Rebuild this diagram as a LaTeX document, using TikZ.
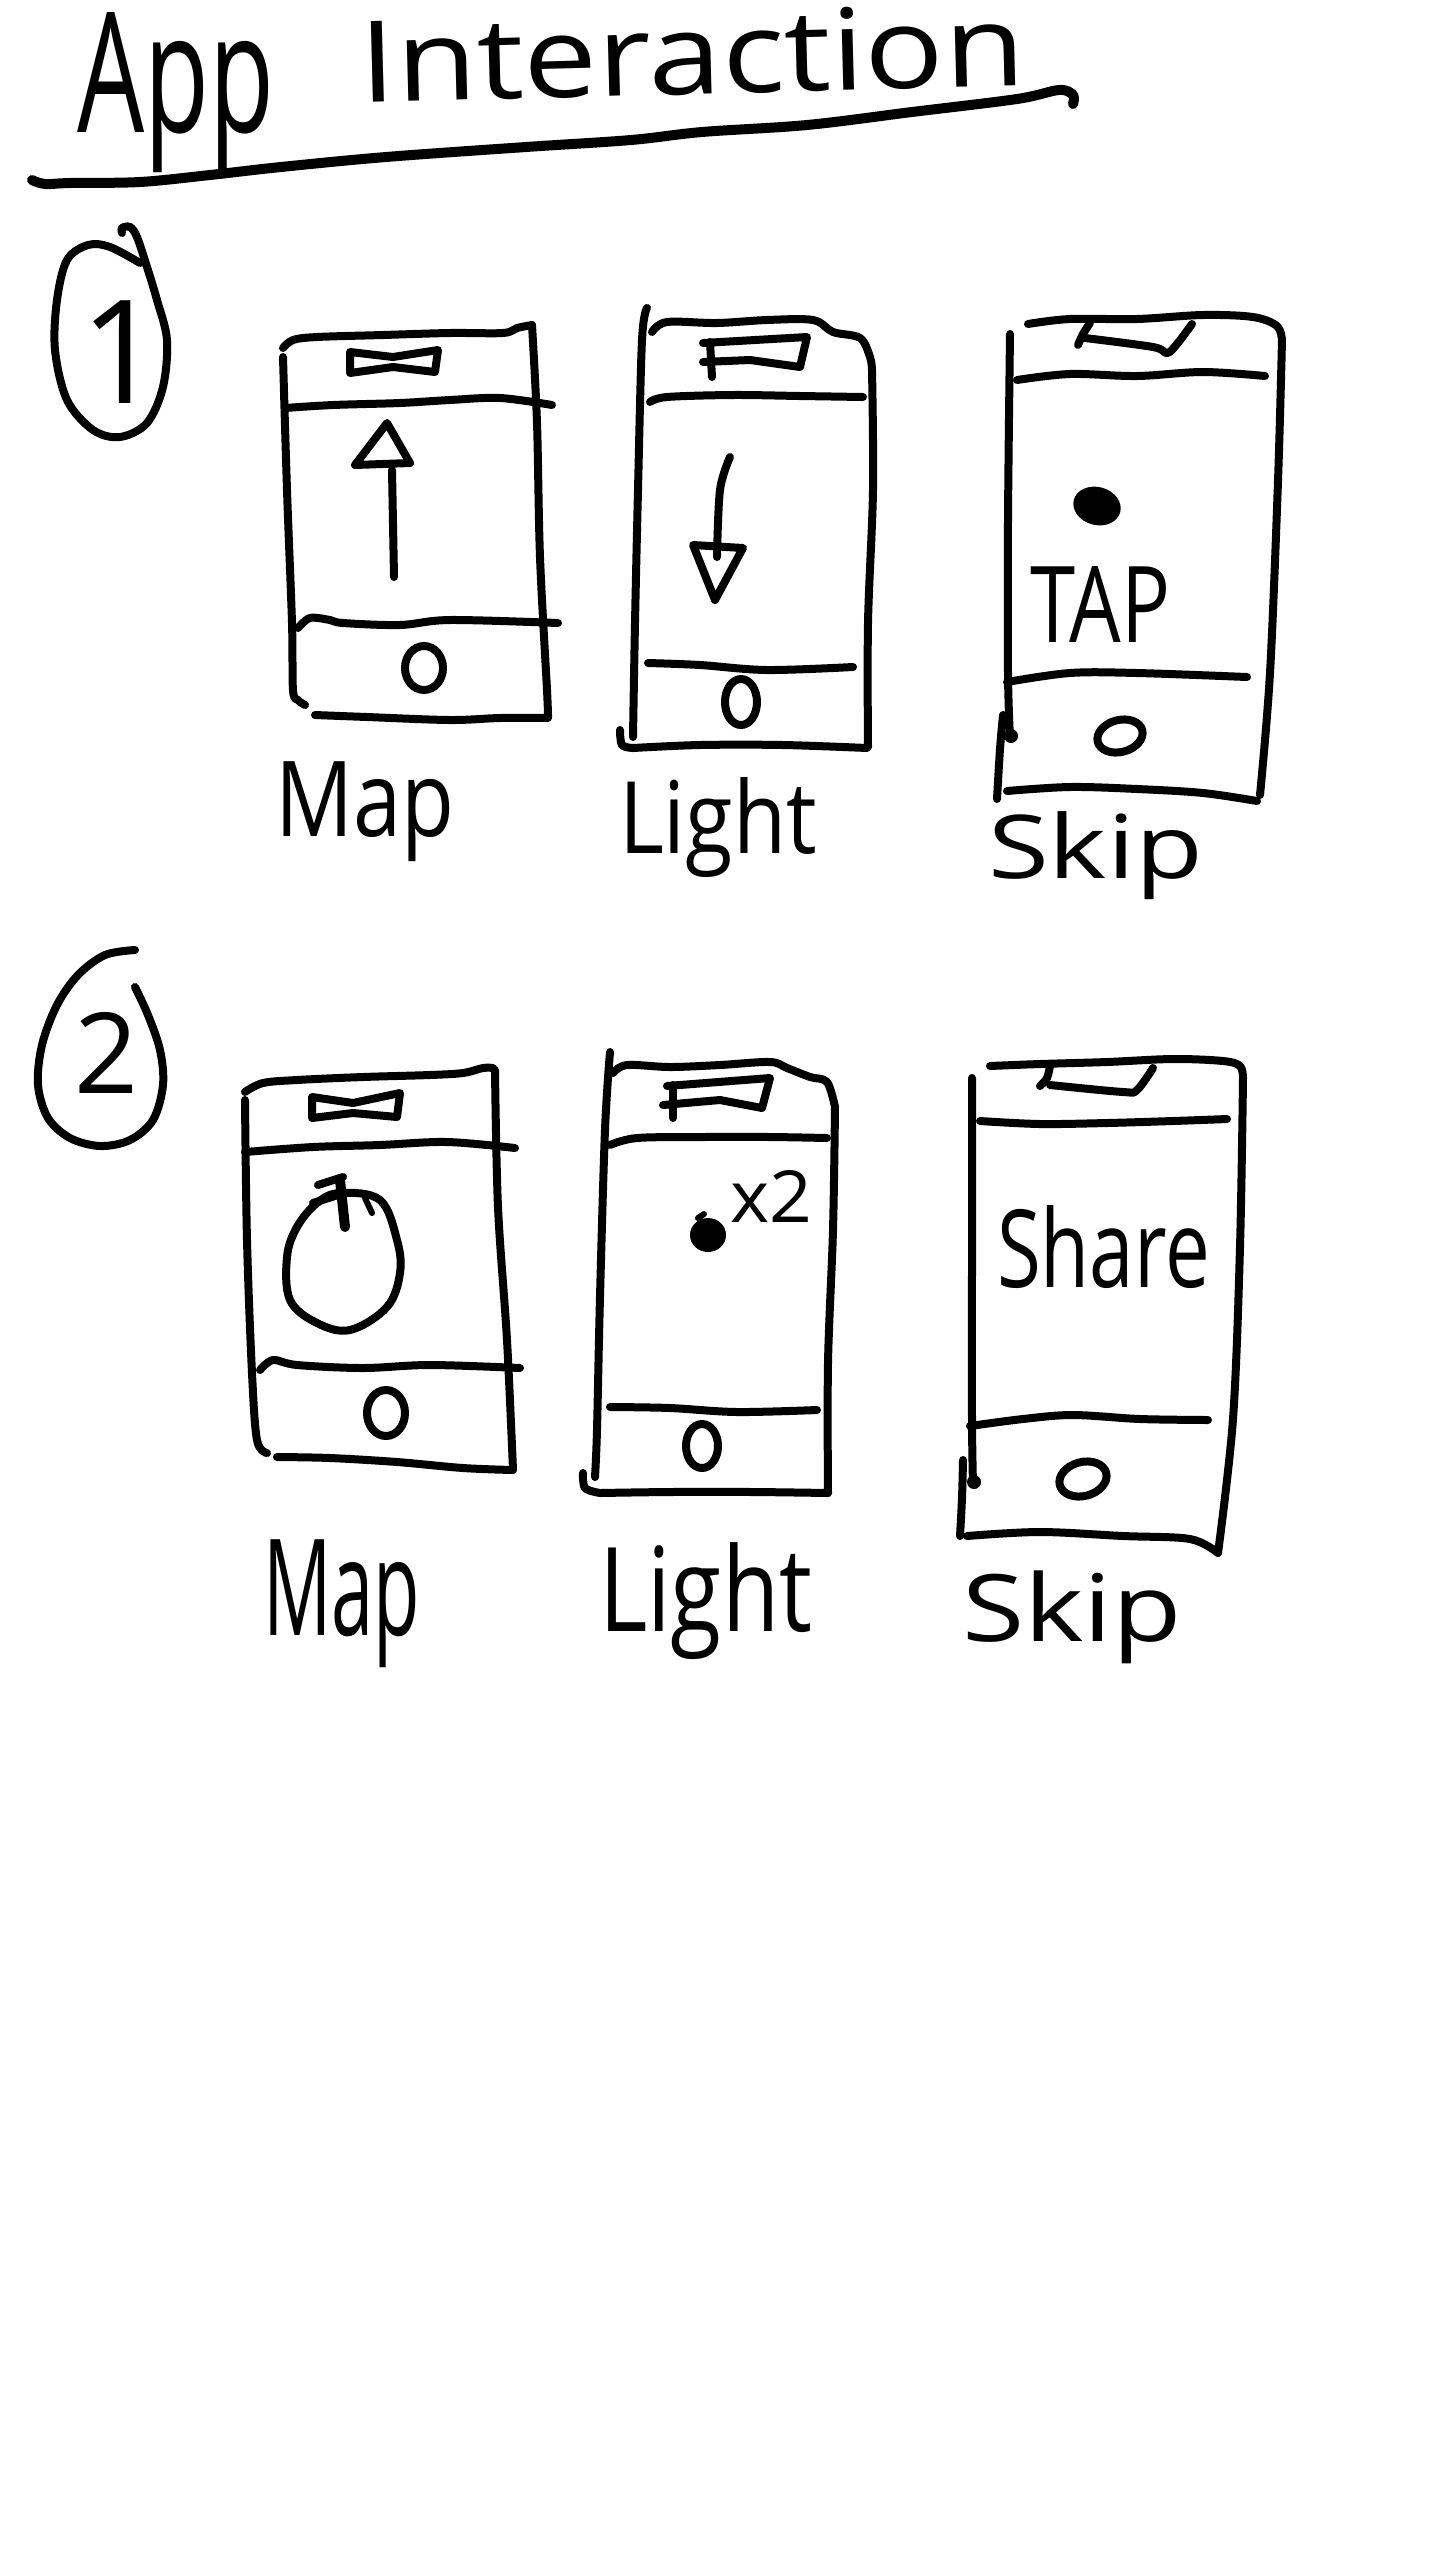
\documentclass[tikz,border=0pt]{standalone}
\usepackage{fontspec}
\usepackage{graphicx}
\setmainfont{Open Sans}
\newdimen\pxu \pxu=0.5pt
\newcommand{\hw}[3]{\resizebox*{#1\pxu}{#2\pxu}{#3}}
\begin{document}
\begin{tikzpicture}[x=0.5pt,y=-0.5pt,
  ink/.style={draw=black,line width=4pt,line cap=round,line join=round},
  fine/.style={draw=black,line width=3pt,line cap=round,line join=round},
  txt/.style={anchor=north west,inner sep=0pt,outer sep=0pt},
  sm/.style={smooth,tension=0.55}]
\fill[white] (0,0) rectangle (1440,2560);
\useasboundingbox (0,0) rectangle (1440,2560);

% ---------- title ----------
\node[txt] (tApp) at (77,13) {\hw{197}{160}{App}};
\node[anchor=south west,inner sep=0pt,outer sep=0pt,rotate=1.5] (tInter) at (361,104) {\hw{665}{84}{Interaction}};
\draw[ink,line width=5pt] plot[sm] coordinates {(32,180) (45,184) (70,183) (140,182) (210,175) (281,167) (386,157) (526,147) (631,140) (702,132) (807,125) (912,112) (1017,99) (1059,90) (1073,95) (1073,104)};

% ---------- section 1 ----------
\draw[ink] plot[sm] coordinates {(140,263) (110,247) (88,245) (67,260) (57,300) (55,350) (67,400) (93,430) (120,437) (147,423) (163,387) (167,340) (157,300) (147,267) (137,237) (130,227) (122,228) (122,233)};
\node (n1) at (122,352) {\fontsize{72}{72}\selectfont 1};

% phone 1 (Map)
\draw[ink] plot[sm] coordinates {(283,348) (293,340) (317,337) (383,335) (450,333) (503,333) (517,328) (532,325)};
\draw[ink] plot[sm] coordinates {(532,325) (537,423) (540,557) (547,690) (548,717)};
\draw[ink] plot[sm] coordinates {(283,357) (287,490) (292,623) (293,690) (298,700) (305,705)};
\draw[ink] plot[sm] coordinates {(315,715) (367,717) (450,720) (500,718) (548,718)};
\draw[ink] plot[sm] coordinates {(285,408) (333,405) (400,403) (450,400) (500,398) (552,405)};
\draw[ink] plot[sm] coordinates {(298,628) (310,618) (330,620) (343,623) (400,625) (450,620) (558,623)};
\draw[ink] (350,352) -- (393,357) -- (438,350) -- (435,372) -- (393,367) -- (350,373) -- cycle;
\draw[ink] (394,577) -- (392,470);
\draw[ink] (355,465) -- (387,423) -- (410,463) -- cycle;
\draw[ink] (424,668) ellipse [x radius=19, y radius=22];

% phone 2 (Light)
\draw[ink] plot[sm] coordinates {(652,332) (667,322) (717,323) (767,320) (813,320) (833,332) (860,338) (870,357) (872,370)};
\draw[ink] plot[sm] coordinates {(872,370) (873,490) (868,623) (868,747)};
\draw[ink] plot[sm] coordinates {(647,308) (642,340) (638,490) (635,623) (633,737)};
\draw[ink] plot[sm] coordinates {(620,730) (622,745) (633,748)};
\draw[ink] plot[sm] coordinates {(633,748) (700,745) (783,745) (867,748)};
\draw[ink] plot[sm] coordinates {(650,402) (667,397) (733,395) (800,396) (863,397)};
\draw[ink] plot[sm] coordinates {(648,663) (700,665) (767,670) (853,667)};
\draw[ink] (703,343) -- (807,337) -- (800,367) -- (750,360) -- (703,362);
\draw[ink] (710,342) -- (712,377);
\draw[ink] plot[sm] coordinates {(730,457) (720,490) (717,557)};
\draw[ink] (693,545) -- (743,548) -- (715,600) -- cycle;
\draw[ink] (741,702) ellipse [x radius=16, y radius=23];

% phone 3 (Skip)
\draw[ink] plot[sm] coordinates {(1028,324) (1070,319) (1137,319) (1203,315) (1253,317) (1277,326) (1282,340)};
\draw[ink] plot[sm] coordinates {(1282,340) (1278,481) (1270,673) (1260,795)};
\draw[ink] plot[sm] coordinates {(1007,791) (1070,787) (1137,789) (1203,793) (1257,801)};
\draw[ink] plot[sm] coordinates {(1010,334) (1008,520) (1008,673) (1010,738)};
\fill (1011,736) circle [radius=7];
\draw[ink] plot[sm] coordinates {(1003,715) (1000,749) (997,799)};
\draw[ink] plot[sm] coordinates {(1017,380) (1070,374) (1137,376) (1203,372) (1265,376)};
\draw[ink] plot[sm] coordinates {(1007,682) (1070,673) (1137,673) (1247,677)};
\draw[ink] plot[sm] coordinates {(1090,323) (1083,334) (1078,345)};
\draw[ink] plot[sm] coordinates {(1085,338) (1153,347) (1167,353) (1177,344) (1192,324)};
\fill[rotate around={-15:(1097,506)}] (1097,506) ellipse [x radius=24, y radius=19];
\node[txt] (tap) at (1030,566) {\hw{140}{76}{TAP}};
\draw[ink,rotate around={15:(1120,736)}] (1120,736) ellipse [x radius=23, y radius=16];

% labels row 1
\node[txt] (l1) at (275,762) {\hw{179}{100}{Map}};
\node[txt] (l2) at (619,777) {\hw{198}{100}{Light}};
\node[txt] (l3) at (988,812) {\hw{215}{88}{Skip}};

% ---------- section 2 ----------
\draw[ink] plot[sm] coordinates {(135,950) (105,955) (78,975) (57,1005) (42,1045) (38,1085) (48,1118) (70,1138) (100,1146) (130,1140) (153,1120) (163,1085) (160,1050) (148,1015) (135,987)};
\node (n2) at (107,1053) {\fontsize{56}{56}\selectfont 2};

% phone 4 (Map)
\draw[ink] plot[sm] coordinates {(245,1092) (263,1083) (297,1080) (363,1077) (430,1075) (463,1073) (483,1068) (493,1068)};
\draw[ink] plot[sm] coordinates {(245,1100) (247,1240) (252,1373) (257,1440) (267,1453)};
\draw[ink] plot[sm] coordinates {(495,1070) (498,1207) (507,1340) (513,1470)};
\draw[ink] plot[sm] coordinates {(277,1457) (330,1458) (397,1462) (463,1468) (513,1470)};
\draw[ink] plot[sm] coordinates {(245,1152) (313,1147) (380,1145) (447,1142) (515,1148)};
\draw[ink] plot[sm] coordinates {(260,1370) (273,1360) (297,1365) (363,1368) (430,1365) (520,1368)};
\draw[ink] (312,1097) -- (353,1103) -- (400,1093) -- (397,1117) -- (353,1113) -- (312,1118) -- cycle;
\draw[ink] plot[smooth cycle,tension=0.6] coordinates {(340,1193) (380,1200) (397,1240) (400,1273) (387,1307) (350,1330) (317,1323) (290,1300) (287,1257) (297,1227) (317,1203)};
\draw[ink,line width=5pt] (340,1180) -- (345,1227);
\draw[ink] (318,1185) -- (343,1177);
\draw[ink] (313,1203) -- (338,1195);
\draw[fine] (365,1198) -- (372,1213);
\draw[ink] (386,1413) ellipse [x radius=19, y radius=23];

% phone 5 (Light)
\draw[ink] plot[sm] coordinates {(610,1052) (605,1130) (600,1297) (597,1430) (595,1477)};
\draw[ink] plot[sm] coordinates {(583,1473) (585,1488) (600,1493)};
\draw[ink] plot[sm] coordinates {(600,1493) (670,1492) (753,1492) (828,1493)};
\draw[ink] plot[sm] coordinates {(835,1107) (833,1230) (828,1363) (828,1493)};
\draw[ink] plot[sm] coordinates {(613,1073) (627,1065) (670,1067) (720,1065) (770,1062) (787,1068) (810,1077) (827,1082) (835,1107)};
\draw[ink] plot[sm] coordinates {(610,1145) (637,1138) (703,1137) (770,1137) (827,1138)};
\draw[ink] plot[sm] coordinates {(610,1407) (670,1408) (737,1412) (817,1410)};
\draw[ink] (667,1086) -- (770,1078) -- (762,1108) -- (720,1100) -- (663,1105);
\draw[ink] (673,1085) -- (673,1118);
\fill (708,1235) ellipse [x radius=18, y radius=17];
\draw[fine] (698,1218) -- (704,1214);
\node[txt] (x2) at (730,1170) {\hw{82}{52}{x2}};
\draw[ink] (702,1446) ellipse [x radius=16, y radius=22];

% phone 6 (Skip)
\draw[ink] plot[sm] coordinates {(990,1066) (1040,1064) (1107,1062) (1173,1059) (1223,1061) (1240,1066) (1243,1078)};
\draw[ink] plot[sm] coordinates {(1243,1078) (1240,1247) (1233,1419) (1218,1553)};
\draw[ink] plot[sm] coordinates {(967,1536) (1040,1532) (1123,1536) (1190,1539) (1218,1553)};
\draw[ink] plot[sm] coordinates {(972,1078) (972,1247) (972,1419) (973,1484)};
\fill (974,1482) circle [radius=7];
\draw[ink] plot[sm] coordinates {(963,1460) (962,1498) (960,1536)};
\draw[ink] plot[sm] coordinates {(980,1121) (1040,1124) (1107,1123) (1173,1121) (1227,1119)};
\draw[ink] plot[sm] coordinates {(970,1426) (1023,1419) (1073,1415) (1140,1419) (1208,1420)};
\draw[ink] plot[sm] coordinates {(1050,1066) (1047,1078) (1040,1086)};
\draw[ink] plot[sm] coordinates {(1050,1085) (1123,1092) (1137,1090) (1153,1068)};
\node[txt] (share) at (997,1205) {\hw{213}{83}{Share}};
\draw[ink,rotate around={15:(1083,1479)}] (1083,1479) ellipse [x radius=24, y radius=17];

% labels row 2
\node[txt] (l4) at (263,1540) {\hw{157}{128}{Map}};
\node[txt] (l5) at (599,1543) {\hw{213}{117}{Light}};
\node[txt] (l6) at (962,1571) {\hw{220}{93}{Skip}};
\end{tikzpicture}
\end{document}
